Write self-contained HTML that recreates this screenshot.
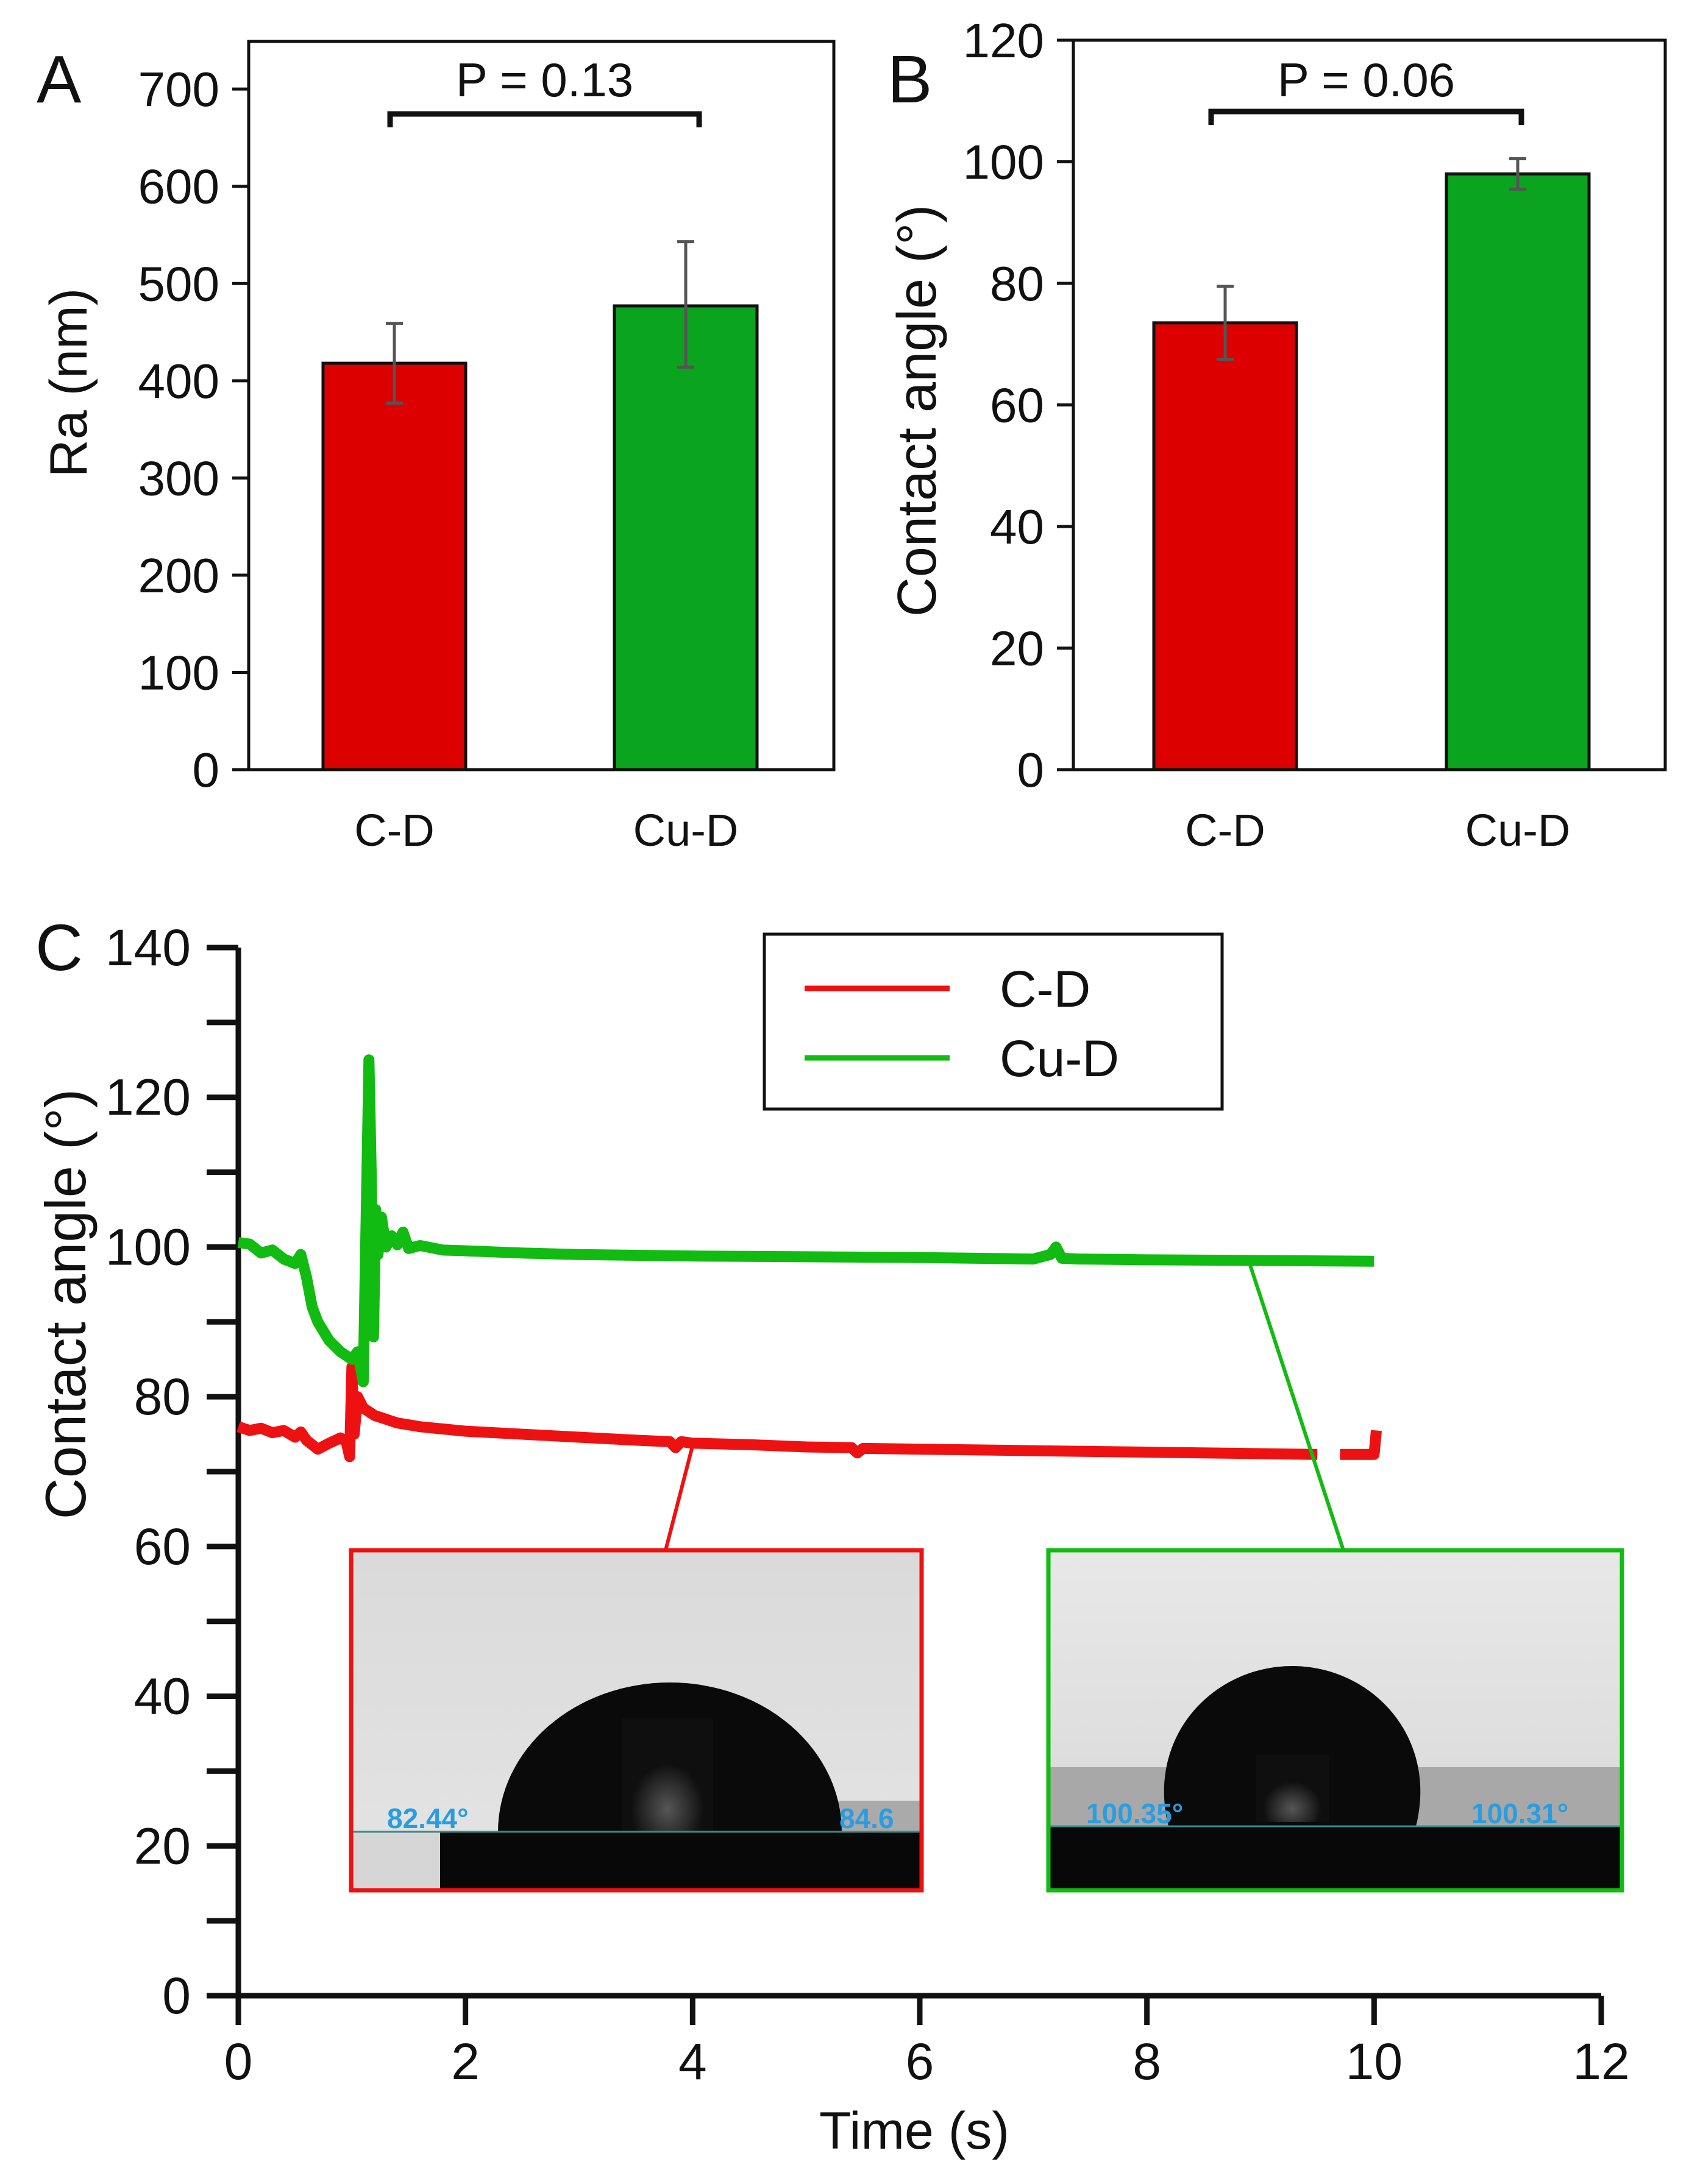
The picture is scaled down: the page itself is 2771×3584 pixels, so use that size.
<!DOCTYPE html>
<html><head><meta charset="utf-8"><style>
html,body{margin:0;padding:0;background:#fff}
svg{display:block}
text{font-family:"Liberation Sans",Arial,sans-serif;fill:#111}
</style></head><body>
<svg id="s" width="2771" height="3584" viewBox="0 0 2771 3584" xmlns="http://www.w3.org/2000/svg">
<defs>
<linearGradient id="bgR" x1="0" y1="0" x2="0" y2="1"><stop offset="0" stop-color="#dadada"/><stop offset="1" stop-color="#e4e4e4"/></linearGradient>
<linearGradient id="bgG" x1="0" y1="0" x2="0" y2="1"><stop offset="0" stop-color="#e8e8e8"/><stop offset="0.6" stop-color="#dedede"/><stop offset="1" stop-color="#c0c0c0"/></linearGradient>
<radialGradient id="glow" cx="0.5" cy="0.8" r="0.4"><stop offset="0" stop-color="#777"/><stop offset="1" stop-color="#111"/></radialGradient>
<clipPath id="cR"><rect x="576" y="2544" width="936" height="558"/></clipPath>
<clipPath id="cG"><rect x="1720" y="2544" width="941" height="558"/></clipPath>
</defs>
<g id="gA"></g>
<g id="gB"></g>
<g id="gC"></g>
</svg>
<script>
const NS="http://www.w3.org/2000/svg";
function mk(p,tag,at,txt){const e=document.createElementNS(NS,tag);for(const k in at)e.setAttribute(k,at[k]);if(txt!==undefined)e.textContent=txt;p.appendChild(e);return e;}

// Panel A data
const catsA=["C-D","Cu-D"];
const valsA=[418,477];
const errHiA=[459,543];
const errLoA=[377,414];
const ticksA=[0,100,200,300,400,500,600,700];
// Panel B data
const catsB=["C-D","Cu-D"];
const valsB=[73.5,98];
const errHiB=[79.5,100.5];
const errLoB=[67.5,95.5];
const ticksB=[0,20,40,60,80,100,120];
// Panel C data
const tRed=[0,0.1,0.2,0.3,0.4,0.5,0.55,0.6,0.7,0.8,0.9,0.95,0.98,1.0,1.02,1.05,1.1,1.2,1.4,1.6,2.0,2.5,3.0,3.5,3.8,3.85,3.9,4.0,4.5,5.0,5.4,5.45,5.5,6.0,7.0,8.0,9.0,9.5];
const vRed=[76,75.5,75.8,75.2,75.5,74.6,75.3,74.2,73,73.8,74.5,74,72,84,75,80,78.5,77.5,76.5,76,75.4,75,74.6,74.2,74,73.2,74,73.8,73.6,73.3,73.2,72.5,73.1,73.0,72.8,72.6,72.4,72.3];
const tRed2=[9.7,10.0,10.02];
const vRed2=[72.3,72.3,75.5];
const tGreen=[0,0.1,0.2,0.3,0.4,0.5,0.55,0.6,0.65,0.7,0.8,0.9,1.0,1.05,1.1,1.15,1.17,1.19,1.21,1.23,1.26,1.3,1.35,1.4,1.45,1.5,1.6,1.8,2.0,2.5,3.0,4.0,5.0,6.0,7.0,7.15,7.2,7.25,7.4,8.0,9.0,10.0];
const vGreen=[100.6,100.4,99.2,99.6,98.4,97.8,99,96,92,90,87.5,86,85,86,82,125,110,88,105,99,104,100,101.5,100.3,102,99.8,100.2,99.6,99.5,99.2,99,98.8,98.7,98.6,98.4,99,100,98.5,98.4,98.3,98.2,98.1];
const ticksCx=[0,2,4,6,8,10,12];
const ticksCy=[0,20,40,60,80,100,120,140];

function barPanel(g,o){
  const y=v=>o.y0-(v/o.ymax)*(o.y0-o.ytop);
  mk(g,"rect",{x:o.L,y:o.ytop,width:o.R-o.L,height:o.y0-o.ytop,fill:"none",stroke:"#111","stroke-width":5,});
  o.ticks.forEach(t=>{
    mk(g,"line",{x1:o.L-27,x2:o.L,y1:y(t),y2:y(t),stroke:"#111","stroke-width":5,});
    mk(g,"text",{x:o.L-48,y:y(t)+28,"font-size":80,"text-anchor":"end",},t);
  });
  o.cats.forEach((c,i)=>{
    const cx=o.cx[i];
    mk(g,"rect",{x:cx-117,y:y(o.vals[i]),width:234,height:o.y0-y(o.vals[i]),fill:o.colors[i],stroke:"#111","stroke-width":5,});
    const ey1=y(o.hi[i]),ey2=y(o.lo[i]);
    mk(g,"line",{x1:cx,x2:cx,y1:ey1,y2:ey2,stroke:"#555","stroke-width":5,});
    mk(g,"line",{x1:cx-14,x2:cx+14,y1:ey1,y2:ey1,stroke:"#555","stroke-width":5,});
    mk(g,"line",{x1:cx-14,x2:cx+14,y1:ey2,y2:ey2,stroke:"#555","stroke-width":5,});
    mk(g,"text",{x:cx,y:1388,"font-size":74,"text-anchor":"middle",},c);
  });
  mk(g,"path",{d:`M${o.br[0]},${o.br[2]+22}V${o.br[2]}H${o.br[1]}V${o.br[2]+22}`,fill:"none",stroke:"#111","stroke-width":9,});
  mk(g,"text",{x:(o.br[0]+o.br[1])/2,y:158,"font-size":78,"text-anchor":"middle",},o.p);
  mk(g,"text",{x:o.lx,y:168,"font-size":110,},o.letter);
  mk(g,"text",{x:0,y:0,"font-size":o.tfs,"text-anchor":"middle",transform:`translate(${o.tx},${o.ty}) rotate(-90)`,},o.title);
}
barPanel(document.getElementById("gA"),{L:408,R:1368,ytop:68,y0:1263,ymax:749,ticks:ticksA,cats:catsA,vals:valsA,hi:errHiA,lo:errLoA,cx:[647,1125],colors:["#dd0000","#0aa41e"],br:[640,1147,187],p:"P = 0.13",letter:"A",lx:60,title:"Ra (nm)",tx:142,ty:628,tfs:86});
barPanel(document.getElementById("gB"),{L:1761,R:2732,ytop:66,y0:1263,ymax:120,ticks:ticksB,cats:catsB,vals:valsB,hi:errHiB,lo:errLoB,cx:[2010,2490],colors:["#dd0000","#0aa41e"],br:[1987,2496,183],p:"P = 0.06",letter:"B",lx:1456,title:"Contact angle (°)",tx:1535,ty:674,tfs:90});

// Panel C
const gC=document.getElementById("gC");
const X0=391,X1=2627,Y0=3275,Y1=1555;
const xs=t=>X0+t/12*(X1-X0), ys=v=>Y0-v/140*(Y0-Y1);
for(let v=0;v<=140;v+=10){
  mk(gC,"line",{x1:X0-52,x2:X0,y1:ys(v),y2:ys(v),stroke:"#111","stroke-width":9,});
}
ticksCy.forEach(v=>mk(gC,"text",{x:313,y:ys(v)+29,"font-size":84,"text-anchor":"end",},v));
ticksCx.forEach(t=>{
  mk(gC,"line",{x1:xs(t),x2:xs(t),y1:Y0,y2:Y0+48,stroke:"#111","stroke-width":9,});
  mk(gC,"text",{x:xs(t),y:3412,"font-size":84,"text-anchor":"middle",},t);
});
mk(gC,"path",{d:`M${X0},${Y1}V${Y0}H${X1}`,fill:"none",stroke:"#111","stroke-width":9,});
mk(gC,"text",{x:1500,y:3526,"font-size":86,"text-anchor":"middle",},"Time (s)");
mk(gC,"text",{x:0,y:0,"font-size":94,"text-anchor":"middle",transform:"translate(140,2140) rotate(-90)",},"Contact angle (°)");
mk(gC,"text",{x:58,y:1592,"font-size":108,},"C");
function line(ts,vs,col,name){
  mk(gC,"polyline",{points:ts.map((t,i)=>xs(t)+","+ys(vs[i])).join(" "),fill:"none",stroke:col,"stroke-width":18,"stroke-linejoin":"round",});
}
line(tRed,vRed,"#ee1111","series-c-d");
line(tRed2,vRed2,"#ee1111","series-c-d-end");
line(tGreen,vGreen,"#11bb11","series-cu-d");
// legend
mk(gC,"rect",{x:1254,y:1533,width:751,height:287,fill:"#fff",stroke:"#111","stroke-width":5,});
mk(gC,"line",{x1:1320,x2:1558,y1:1622,y2:1622,stroke:"#ee1111","stroke-width":9,});
mk(gC,"line",{x1:1320,x2:1558,y1:1736,y2:1736,stroke:"#11bb11","stroke-width":9,});
mk(gC,"text",{x:1640,y:1652,"font-size":84,},"C-D");
mk(gC,"text",{x:1640,y:1766,"font-size":84,},"Cu-D");
// connectors
mk(gC,"line",{x1:xs(4.0),y1:ys(73.5),x2:1092,y2:2544,stroke:"#ee1111","stroke-width":6,});
mk(gC,"line",{x1:xs(8.9),y1:ys(98),x2:2204,y2:2544,stroke:"#11bb11","stroke-width":6,});
// red inset
const iR=mk(gC,"g",{"clip-path":"url(#cR)",});
mk(iR,"rect",{x:576,y:2544,width:936,height:558,fill:"url(#bgR)"});
mk(iR,"rect",{x:1300,y:2955,width:212,height:51,fill:"#aaa"});
mk(iR,"rect",{x:722,y:3006,width:790,height:96,fill:"#080808"});
mk(iR,"rect",{x:576,y:3006,width:146,height:96,fill:"#d6d6d6"});
mk(iR,"path",{d:"M817,3006 A282,245 0 0 1 1381,3006 Z",fill:"#0a0a0a"});
mk(iR,"rect",{x:1020,y:2820,width:150,height:186,fill:"url(#glow)",opacity:0.7});
mk(iR,"line",{x1:576,x2:1512,y1:3006,y2:3006,stroke:"#3a8a8a","stroke-width":3});
mk(iR,"text",{x:635,y:3000,"font-size":46,"font-weight":"bold",style:"fill:#2a9de0",},"82.44°");
mk(iR,"text",{x:1377,y:3000,"font-size":46,"font-weight":"bold",style:"fill:#2a9de0",},"84.6");
mk(gC,"rect",{x:576,y:2544,width:936,height:558,fill:"none",stroke:"#ee1111","stroke-width":7,});
// green inset
const iG=mk(gC,"g",{"clip-path":"url(#cG)",});
mk(iG,"rect",{x:1720,y:2544,width:941,height:558,fill:"url(#bgG)"});
mk(iG,"rect",{x:1720,y:2900,width:941,height:97,fill:"#a8a8a8"});
mk(iG,"rect",{x:1720,y:2997,width:941,height:105,fill:"#080808"});
mk(iG,"path",{d:"M1917,2997 C1880,2850 1990,2734 2120,2734 C2250,2734 2360,2850 2323,2997 Z",fill:"#0a0a0a"});
mk(iG,"rect",{x:2060,y:2880,width:120,height:110,fill:"url(#glow)",opacity:0.7});
mk(iG,"line",{x1:1720,x2:2661,y1:2997,y2:2997,stroke:"#3a8a8a","stroke-width":3});
mk(iG,"text",{x:1782,y:2992,"font-size":46,"font-weight":"bold",style:"fill:#2a9de0",},"100.35°");
mk(iG,"text",{x:2414,y:2992,"font-size":46,"font-weight":"bold",style:"fill:#2a9de0",},"100.31°");
mk(gC,"rect",{x:1720,y:2544,width:941,height:558,fill:"none",stroke:"#11bb11","stroke-width":7,});
</script>
</body></html>
